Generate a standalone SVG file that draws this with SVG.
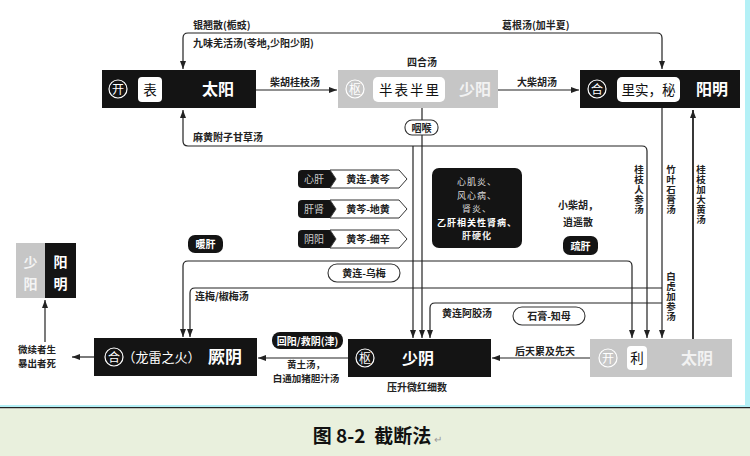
<svg xmlns="http://www.w3.org/2000/svg" width="750" height="456" viewBox="0 0 750 456">
<defs>
<style>
.ln{fill:none;stroke:#222;stroke-width:1.2}
.lb{font-family:"Noto Sans CJK SC","Liberation Sans",sans-serif;font-size:10px;font-weight:bold;fill:#222}
.sm{font-size:9.5px}
.vt{font-family:"Noto Sans CJK SC","Liberation Sans",sans-serif;font-size:9.5px;font-weight:bold;fill:#222;writing-mode:vertical-rl;letter-spacing:0.5px}
.nt{font-family:"Noto Sans CJK SC","Liberation Sans",sans-serif;font-size:16px;font-weight:bold;fill:#fff}
.ct{font-family:"Noto Sans CJK SC","Liberation Sans",sans-serif;font-size:12px;fill:#fff;text-anchor:middle}
.wt{font-family:"Noto Sans CJK SC","Liberation Sans",sans-serif;font-size:13.5px;fill:#111;text-anchor:middle}
.circ{fill:none;stroke:#fff;stroke-width:1.2}
.blk{fill:#141414}
.gry{fill:#c6c6c6}
.pill{fill:#fff;stroke:#333;stroke-width:1.1}
.bp{fill:#141414}
.pt{font-family:"Noto Sans CJK SC","Liberation Sans",sans-serif;font-size:10px;font-weight:bold;fill:#fff;text-anchor:middle}
.dz{font-family:"Noto Sans CJK SC","Liberation Sans",sans-serif;font-size:9px;fill:#ddd;text-anchor:middle;letter-spacing:1px}
.mid{text-anchor:middle}
</style>
<marker id="ar" markerWidth="8" markerHeight="6" refX="8" refY="3" orient="auto" markerUnits="userSpaceOnUse">
<path d="M0,0 L8,3 L0,6 z" fill="#222"/>
</marker>
</defs>
<rect x="0" y="0" width="750" height="456" fill="#fff"/>
<rect x="745" y="0" width="5" height="405" fill="#b4f0f6"/>
<rect x="0" y="405" width="750" height="2" fill="#b4f0f6"/>
<rect x="0" y="407" width="750" height="1.5" fill="#222"/>
<rect x="0" y="408.5" width="750" height="47.5" fill="#e9f0dd"/>

<g id="connectors">
<path class="ln" d="M420 33 H188 Q183 33 183 38 V69" marker-end="url(#ar)"/>
<path class="ln" d="M420 33 H657 Q662 33 662 38 V69" marker-end="url(#ar)"/>
<path class="ln" d="M256 90 H337" marker-end="url(#ar)"/>
<path class="ln" d="M498 90 H579" marker-end="url(#ar)"/>
<path class="ln" d="M300 146 H188 Q183 146 183 141 V110" marker-end="url(#ar)"/>
<path class="ln" d="M300 146 H642 Q647 146 647 151 V338" marker-end="url(#ar)"/>
<path class="ln" d="M413 146 V338" marker-end="url(#ar)"/>
<path class="ln" d="M422 108 V338" marker-end="url(#ar)"/>
<path class="ln" d="M662 108 V338" marker-end="url(#ar)"/>
<path class="ln" style="stroke-width:1.8" d="M693 339 V110" marker-end="url(#ar)"/>
<path class="ln" d="M400 261 H188 Q183 261 183 266 V337" marker-end="url(#ar)"/>
<path class="ln" d="M400 261 H627 Q632 261 632 266 V338" marker-end="url(#ar)"/>
<path class="ln" d="M662 288 H195 Q190 288 190 293 V337" marker-end="url(#ar)"/>
<path class="ln" d="M662 303 H435 Q430 303 430 308 V338" marker-end="url(#ar)"/>
<path class="ln" d="M348 358 H258" marker-end="url(#ar)"/>
<path class="ln" d="M590 358 H492" marker-end="url(#ar)"/>
<path class="ln" d="M94 357 H72" marker-end="url(#ar)"/>
<path class="ln" d="M45 342 V300" marker-end="url(#ar)"/>
</g>

<g id="labels">
<text class="lb" x="193" y="29">银翘散(栀豉)</text>
<text class="lb" x="193" y="47">九味羌活汤(苓地,少阳少阴)</text>
<text class="lb" x="502" y="29">葛根汤(加半夏)</text>
<text class="lb" x="407" y="66">四合汤</text>
<text class="lb" x="270" y="86">柴胡桂枝汤</text>
<text class="lb" x="517" y="86">大柴胡汤</text>
<text class="lb" x="193" y="141">麻黄附子甘草汤</text>
<text class="lb" x="195" y="300">连梅/椒梅汤</text>
<text class="lb" x="442" y="317">黄连阿胶汤</text>
<text class="lb" x="515" y="355">后天累及先天</text>
<text class="lb sm mid" x="306" y="368">黄土汤，</text>
<text class="lb sm mid" x="306" y="382">白通加猪胆汁汤</text>
<text class="lb mid" x="417" y="391">压升微红细数</text>
<text class="lb sm" x="18" y="353">微续者生</text>
<text class="lb sm" x="18" y="367">暴出者死</text>
<text class="vt" x="639" y="165">桂枝人参汤</text>
<text class="vt" x="671" y="165">竹叶石膏汤</text>
<text class="vt" x="701" y="165">桂枝加大黄汤</text>
<text class="vt" x="671" y="272">白虎加参汤</text>
<text class="lb mid" x="578" y="209">小柴胡，</text>
<text class="lb mid" x="578" y="226">逍遥散</text>
</g>

<g id="pill-yanhou">
<rect class="pill" x="405" y="120" width="33" height="15" rx="7"/>
<text class="lb mid" x="421.5" y="131.5">咽喉</text>
</g>
<g id="pill-hlwm">
<rect class="pill" x="328" y="264" width="72" height="18" rx="9"/>
<text class="lb mid" x="364" y="277">黄连-乌梅</text>
</g>
<g id="pill-sgzm">
<rect class="pill" x="513" y="307" width="72" height="18" rx="9"/>
<text class="lb mid" x="549" y="320">石膏-知母</text>
</g>
<g id="pill-huiyang">
<rect class="bp" x="272" y="332" width="71" height="17" rx="8"/>
<text class="pt" x="307.5" y="344.5">回阳/救阴(津)</text>
</g>
<g id="pill-nuangan">
<rect class="bp" x="188" y="235" width="35" height="18" rx="7"/>
<text class="pt" x="205.5" y="248">暖肝</text>
</g>
<g id="pill-shugan">
<rect class="bp" x="563" y="236" width="35" height="19" rx="7"/>
<text class="pt" x="580.5" y="249.5">疏肝</text>
</g>

<g id="tag-xingan">
<path class="bp" d="M302 170 H330 L336 179 L330 188 H302 Q298 188 298 184 V174 Q298 170 302 170 Z"/>
<path fill="#fff" stroke="#333" stroke-width="1" d="M330 170 H399 L407 179 L399 188 H330 L336 179 Z"/>
<text class="pt" style="font-weight:normal;fill:#ccc" x="314" y="183">心肝</text>
<text class="lb mid" x="368" y="183">黄连-黄芩</text>
</g>
<g id="tag-ganshen">
<path class="bp" d="M302 200 H330 L336 209 L330 218 H302 Q298 218 298 214 V204 Q298 200 302 200 Z"/>
<path fill="#fff" stroke="#333" stroke-width="1" d="M330 200 H399 L407 209 L399 218 H330 L336 209 Z"/>
<text class="pt" style="font-weight:normal;fill:#ccc" x="314" y="213">肝肾</text>
<text class="lb mid" x="368" y="213">黄芩-地黄</text>
</g>
<g id="tag-yinyang">
<path class="bp" d="M302 230 H330 L336 239 L330 248 H302 Q298 248 298 244 V234 Q298 230 302 230 Z"/>
<path fill="#fff" stroke="#333" stroke-width="1" d="M330 230 H399 L407 239 L399 248 H330 L336 239 Z"/>
<text class="pt" style="font-weight:normal;fill:#ccc" x="314" y="243">阴阳</text>
<text class="lb mid" x="368" y="243">黄芩-细辛</text>
</g>

<g id="disease-box">
<rect class="bp" x="432" y="168" width="90" height="80" rx="7"/>
<text class="dz" x="477" y="185">心肌炎、</text>
<text class="dz" x="477" y="198.5">风心病、</text>
<text class="dz" x="477" y="212">肾炎、</text>
<text class="dz" style="fill:#fff;font-weight:bold" x="477" y="225.5">乙肝相关性肾病、</text>
<text class="dz" style="fill:#eee;font-weight:bold" x="477" y="239">肝硬化</text>
</g>

<g id="node-taiyang">
<rect class="blk" x="102" y="70" width="154" height="38"/>
<circle class="circ" cx="118" cy="89" r="9"/>
<text class="ct" x="118" y="93.5">开</text>
<rect fill="#fff" x="138" y="77" width="24" height="25" rx="4"/>
<text class="wt" x="150" y="94.5">表</text>
<text class="nt mid" x="218" y="95">太阳</text>
</g>
<g id="node-shaoyang">
<rect class="gry" x="338" y="70" width="160" height="38"/>
<circle class="circ" cx="355" cy="89" r="9"/>
<text class="ct" x="355" y="93.5">枢</text>
<rect fill="#fff" x="373" y="77" width="72" height="25" rx="5"/>
<text class="wt" style="letter-spacing:2px" x="410" y="94.5">半表半里</text>
<text class="nt mid" style="fill:#f2f2f2" x="475" y="95">少阳</text>
</g>
<g id="node-yangming">
<rect class="blk" x="580" y="70" width="160" height="38"/>
<circle class="circ" cx="597" cy="89" r="9"/>
<text class="ct" x="597" y="93.5">合</text>
<rect fill="#fff" x="617" y="77" width="63" height="25" rx="5"/>
<text class="wt" x="648.5" y="94.5">里实，秘</text>
<text class="nt mid" x="712" y="95">阳明</text>
</g>
<g id="node-jueyin">
<rect class="blk" x="94" y="338" width="163" height="38"/>
<circle class="circ" cx="114" cy="357" r="9"/>
<text class="ct" x="114" y="361.5">合</text>
<text class="ct" style="font-size:13px" x="161.5" y="362">（龙雷之火）</text>
<text class="nt mid" style="font-size:17px" x="225" y="363">厥阴</text>
</g>
<g id="node-shaoyin">
<rect class="blk" x="348" y="339" width="143" height="38"/>
<circle class="circ" cx="365" cy="358" r="9"/>
<text class="ct" x="365" y="362.5">枢</text>
<text class="nt mid" x="418" y="364">少阴</text>
</g>
<g id="node-taiyin">
<rect class="gry" x="590" y="339" width="142" height="38"/>
<circle class="circ" cx="608" cy="358" r="9"/>
<text class="ct" x="608" y="362.5">开</text>
<rect fill="#fff" x="627" y="346" width="20" height="24" rx="4"/>
<text class="wt" x="637" y="363">利</text>
<text class="nt mid" style="fill:#f2f2f2" x="697" y="364">太阴</text>
</g>
<g id="node-shaoyang-yangming">
<rect class="gry" x="16" y="243" width="29" height="55"/>
<rect class="blk" x="45" y="243" width="31" height="55"/>
<text class="nt mid" style="font-size:14px;fill:#f4f4f4" x="30.5" y="267">少</text>
<text class="nt mid" style="font-size:14px;fill:#f4f4f4" x="30.5" y="289">阳</text>
<text class="nt mid" style="font-size:14px" x="60.5" y="267">阳</text>
<text class="nt mid" style="font-size:14px" x="60.5" y="289">明</text>
</g>

<g id="caption">
<text x="372" y="443" text-anchor="middle" style="font-family:'Noto Sans CJK SC','Liberation Sans',sans-serif;font-size:19px;font-weight:bold;fill:#111;white-space:pre">图 8-2  截断法</text>
<text x="434" y="443" style="font-family:'Liberation Sans',sans-serif;font-size:10px;fill:#999">↵</text>
</g>
</svg>
